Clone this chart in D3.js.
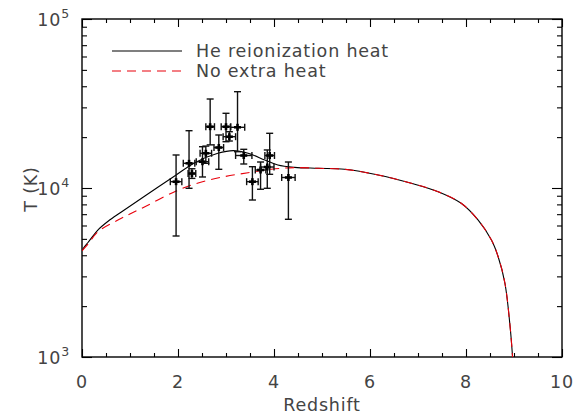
<!DOCTYPE html>
<html><head><meta charset="utf-8">
<script src="https://cdn.jsdelivr.net/npm/d3@7"></script>
<style>
body{margin:0;background:#fff}
svg{display:block}
text{font-family:"DejaVu Sans",sans-serif;fill:#444;font-size:17.5px;letter-spacing:0.8px}
</style></head>
<body><svg id="c" width="576" height="414"></svg>
<script>
// He reionization heat (solid)
const heZ = [0, 0.05, 0.125, 0.33, 0.55, 0.82, 1.31, 1.93, 2.35, 2.83, 3.15, 3.46, 3.81, 4.08, 4.43, 4.92, 5.47, 6.17, 6.86, 7.42, 7.9, 8.25, 8.53, 8.67, 8.81, 8.92, 8.97];
const heT = [4250, 4480, 4760, 5640, 6380, 7210, 8970, 11780, 14120, 16040, 16630, 16040, 14650, 13680, 13250, 13080, 12900, 11940, 10660, 9510, 8120, 6470, 4920, 3920, 2740, 1500, 1000];
// No extra heat (dashed)
const noZ = [0, 0.125, 0.33, 0.82, 1.31, 1.93, 2.35, 2.9, 3.46, 3.94, 4.43, 4.92, 5.47, 6.17, 6.86, 7.42, 7.9, 8.25, 8.53, 8.67, 8.81, 8.92, 8.97];
const noT = [4250, 4650, 5510, 6620, 7750, 9510, 10560, 11570, 12320, 12900, 13200, 13080, 12900, 11940, 10660, 9510, 8120, 6470, 4920, 3920, 2740, 1500, 1000];
// Observations
const obsZ   = [1.96, 2.23, 2.29, 2.51, 2.58, 2.67, 2.85, 3.0, 3.07, 3.24, 3.37, 3.55, 3.72, 3.86, 3.91, 4.30];
const obsDz  = [0.12, 0.12, 0.08, 0.13, 0.12, 0.09, 0.10, 0.10, 0.13, 0.15, 0.17, 0.12, 0.11, 0.14, 0.10, 0.14];
const obsT   = [10900, 14000, 12180, 14310, 16050, 23050, 17360, 23050, 20120, 22870, 15570, 10900, 12780, 13310, 15570, 11540];
const obsTlo = [5200, 9960, 11400, 11620, 14000, 18000, 12900, 18790, 18970, 16400, 13870, 8490, 9830, 9960, 12050, 6530];
const obsThi = [15680, 21830, 13000, 17550, 17700, 33620, 20590, 27670, 21530, 37150, 16940, 13370, 14250, 16790, 21070, 14250];
// Ticks
const xTicks = [0, 2, 4, 6, 8, 10];
const xTickLabels = ["0", "2", "4", "6", "8", "10"];
const yTicks = [1e3, 1e4, 1e5];
const yTickExp = ["3", "4", "5"];
const legendLabels = ["He reionization heat", "No extra heat"];
const xLabel = "Redshift", yLabel = "T (K)";

const svg = d3.select("#c");
const L = 82, R = 562, T = 19, B = 357;
const x = d3.scaleLinear().domain([0, 10]).range([L, R]);
const y = d3.scaleLog().domain([1e3, 1e5]).range([B, T]);

const xMinor = d3.range(0, 10.001, 0.5).filter(v => !xTicks.includes(v));
const yMinor = [];
[1e3, 1e4].forEach(d => { for (let k = 2; k <= 9; k++) yMinor.push(d * k); });

function axisG(axis, tx, ty) {
  const g = svg.append("g").attr("transform", `translate(${tx},${ty})`).call(axis);
  g.select(".domain").remove();
  g.selectAll("text").remove();
  g.selectAll("line").attr("stroke", "#000").attr("stroke-width", 1.1);
  return g;
}
axisG(d3.axisBottom(x).tickValues(xTicks).tickSize(-8), 0, B);
axisG(d3.axisBottom(x).tickValues(xMinor).tickSize(-4), 0, B);
axisG(d3.axisTop(x).tickValues(xTicks).tickSize(-8), 0, T);
axisG(d3.axisTop(x).tickValues(xMinor).tickSize(-4), 0, T);
axisG(d3.axisLeft(y).tickValues(yTicks).tickSize(-10), L, 0);
axisG(d3.axisLeft(y).tickValues(yMinor).tickSize(-5), L, 0);
axisG(d3.axisRight(y).tickValues(yTicks).tickSize(-10), R, 0);
axisG(d3.axisRight(y).tickValues(yMinor).tickSize(-5), R, 0);

svg.append("rect").attr("x", L).attr("y", T).attr("width", R - L).attr("height", B - T)
  .attr("fill", "none").attr("stroke", "#000").attr("stroke-width", 1.4);

// tick labels
svg.append("g").selectAll("text").data(xTicks).join("text")
  .attr("x", d => x(d)).attr("y", B + 31).attr("text-anchor", "middle")
  .text((d, i) => xTickLabels[i]);
const yl = svg.append("g").selectAll("text").data(yTicks).join("text")
  .attr("x", L - 12).attr("y", d => y(d) + 7).attr("text-anchor", "end");
yl.append("tspan").text("10");
yl.append("tspan").attr("dy", -8).attr("font-size", "12.5px").text((d, i) => yTickExp[i]);

svg.append("text").attr("x", (L + R) / 2).attr("y", 411).attr("text-anchor", "middle").text(xLabel);
svg.append("text").attr("transform", `translate(37,${(T + B) / 2 + 1}) rotate(-90)`)
  .attr("text-anchor", "middle").text(yLabel);

// curves
svg.append("clipPath").attr("id", "clip").append("rect")
  .attr("x", L).attr("y", T).attr("width", R - L).attr("height", B - T);
const line = d3.line().x(d => x(d[0])).y(d => y(d[1])).curve(d3.curveCatmullRom.alpha(0.5));
const plot = svg.append("g").attr("clip-path", "url(#clip)");
plot.append("path").datum(heZ.map((z, i) => [z, heT[i]])).attr("d", line)
  .attr("fill", "none").attr("stroke", "#000").attr("stroke-width", 1.1);
plot.append("path").datum(noZ.map((z, i) => [z, noT[i]])).attr("d", line)
  .attr("fill", "none").attr("stroke", "#e8000b").attr("stroke-width", 1.1).attr("stroke-dasharray", "9,6");

// observations
const obs = obsZ.map((z, i) => ({z, dz: obsDz[i], t: obsT[i], lo: obsTlo[i], hi: obsThi[i]}));
const og = svg.append("g").attr("stroke", "#111").attr("stroke-width", 1.4).attr("fill", "none");
const cap = 3.5;
obs.forEach(d => {
  const cx = x(d.z), cy = y(d.t);
  const g = og.append("g");
  g.append("line").attr("x1", cx).attr("x2", cx).attr("y1", y(d.lo)).attr("y2", y(d.hi));
  g.append("line").attr("x1", cx - cap).attr("x2", cx + cap).attr("y1", y(d.lo)).attr("y2", y(d.lo));
  g.append("line").attr("x1", cx - cap).attr("x2", cx + cap).attr("y1", y(d.hi)).attr("y2", y(d.hi));
  g.append("line").attr("x1", x(d.z - d.dz)).attr("x2", x(d.z + d.dz)).attr("y1", cy).attr("y2", cy);
  g.append("line").attr("x1", x(d.z - d.dz)).attr("x2", x(d.z - d.dz)).attr("y1", cy - cap).attr("y2", cy + cap);
  g.append("line").attr("x1", x(d.z + d.dz)).attr("x2", x(d.z + d.dz)).attr("y1", cy - cap).attr("y2", cy + cap);
  g.append("line").attr("x1", cx - 3.5).attr("x2", cx + 3.5).attr("y1", cy).attr("y2", cy).attr("stroke-width", 2.6).attr("stroke", "#000");
  g.append("line").attr("x1", cx).attr("x2", cx).attr("y1", cy - 3.5).attr("y2", cy + 3.5).attr("stroke-width", 2.6).attr("stroke", "#000");
});

// legend
const leg = svg.append("g");
[0, 1].forEach(i => {
  const ly = 51 + i * 20;
  leg.append("line").attr("x1", 112).attr("x2", 182).attr("y1", ly).attr("y2", ly)
    .attr("stroke", i === 0 ? "#000" : "#e8000b").attr("stroke-width", 1.1)
    .attr("stroke-dasharray", i === 0 ? null : "9,6");
  leg.append("text").attr("x", 196).attr("y", ly + 6).text(legendLabels[i]);
});
</script>
</body></html>
